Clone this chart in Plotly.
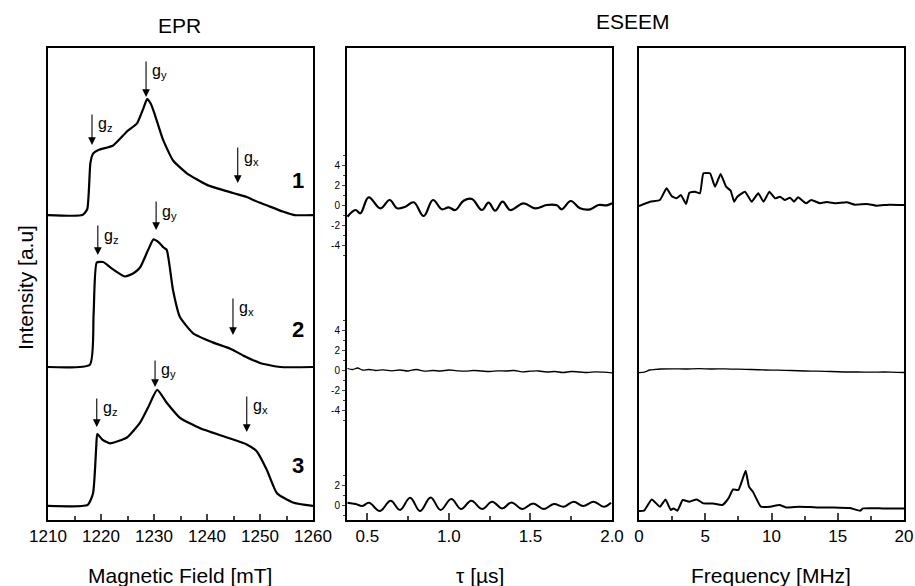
import plotly.graph_objects as go

# ---------------- DATA ----------------
# EPR spectra (field in mT, intensity normalised, relative to own baseline)
epr1_field = [1210, 1216.5, 1217.4, 1218.0, 1218.5, 1219.5, 1222.3, 1224.9, 1226.8, 1228.0, 1228.7, 1229.4, 1230.2, 1231.7,
              1233.6, 1236.2, 1240.0, 1244.9, 1247.5, 1248.7, 1251.5, 1254.3, 1256.5, 1260]
epr1_int = [0.0, 0.0, 0.05, 0.45, 0.53, 0.56, 0.60, 0.72, 0.79, 0.92, 1.0, 0.96, 0.86, 0.65,
            0.47, 0.36, 0.26, 0.19, 0.155, 0.13, 0.08, 0.03, 0.0, 0.0]

epr2_field = [1210, 1217.9, 1218.6, 1219.2, 1220.4, 1222.0, 1224.5, 1226.2, 1227.4, 1228.9, 1229.9, 1231.0,
              1231.8, 1232.4, 1233.6, 1234.9, 1237.4, 1241.2, 1244.3, 1246.8, 1250.0, 1253.8, 1260]
epr2_int = [0.0, 0.02, 0.45, 0.90, 0.905, 0.85, 0.78, 0.81, 0.86, 1.01, 1.10, 1.07,
            1.03, 1.01, 0.66, 0.43, 0.29, 0.21, 0.16, 0.10, 0.035, 0.0, 0.0]

epr3_field = [1210, 1217.5, 1218.5, 1219.1, 1219.3, 1220.3, 1221.7, 1224.9, 1227.4, 1228.9, 1230.6, 1232.4,
              1234.9, 1238.7, 1243.8, 1247.5, 1249.4, 1251.3, 1253.2, 1256.2, 1260]
epr3_int = [0.0, 0.01, 0.11, 0.51, 0.62, 0.57, 0.54, 0.59, 0.72, 0.85, 1.0, 0.89,
            0.76, 0.67, 0.59, 0.53, 0.47, 0.31, 0.11, 0.03, 0.0]

# ESEEM time traces (tau in microseconds)
t1 = [0.378, 0.427, 0.457, 0.508, 0.58, 0.637, 0.682, 0.733, 0.784, 0.845, 0.902, 0.957, 0.998, 1.039,
      1.09, 1.141, 1.202, 1.243, 1.284, 1.329, 1.376, 1.457, 1.529, 1.6, 1.662, 1.692, 1.747, 1.804,
      1.866, 1.917, 1.968, 2.0]
v1 = [-1.17, -0.5, -0.83, 0.77, -0.33, 0.5, -0.33, -0.17, 0.27, -1.1, 0.5, -0.43, -0.23, -0.5,
      0.43, 0.6, -0.5, 0.23, -0.57, 0.33, -0.5, 0.17, -0.33, 0.0, -0.03, -0.43, 0.4, -0.33,
      -0.43, 0.0, -0.03, 0.17]

t2 = [0.378, 0.41, 0.44, 0.47, 0.51, 0.55, 0.6, 0.65, 0.7, 0.75, 0.8, 0.85, 0.9, 0.95, 1.0, 1.05,
      1.1, 1.15, 1.2, 1.25, 1.3, 1.35, 1.4, 1.45, 1.5, 1.55, 1.6, 1.65, 1.7, 1.75, 1.8, 1.85, 1.9,
      1.95, 2.0]
v2 = [0.15, 0.05, 0.2, 0.0, 0.05, -0.05, 0.02, -0.08, 0.0, -0.1, 0.05, -0.12, -0.05, -0.1, 0.0,
      -0.08, -0.12, -0.05, -0.1, -0.15, -0.08, -0.1, -0.05, -0.18, -0.12, -0.1, -0.2, -0.15, -0.25,
      -0.15, -0.2, -0.25, -0.18, -0.22, -0.28]

t3 = [0.378, 0.428, 0.469, 0.51, 0.576, 0.643, 0.7, 0.762, 0.823, 0.888, 0.949, 1.014, 1.075, 1.137,
      1.204, 1.265, 1.326, 1.384, 1.449, 1.516, 1.582, 1.643, 1.704, 1.765, 1.823, 1.888, 1.949, 1.994]
v3 = [0.3, 0.17, -0.03, 0.3, -0.53, 0.5, -0.43, 0.8, -0.53, 0.83, -0.43, 0.67, -0.33, 0.5,
      -0.33, 0.4, -0.27, 0.33, -0.33, 0.23, -0.33, 0.17, -0.1, 0.4, -0.03, 0.4, -0.1, 0.3]

# ESEEM frequency spectra (MHz)
f1 = [0.0, 0.83, 1.58, 2.08, 2.46, 2.83, 3.16, 3.55, 3.8, 4.23, 4.6, 4.86, 5.36, 5.74, 6.16, 6.57,
      6.92, 7.18, 7.42, 8.0, 8.5, 9.0, 9.4, 9.84, 10.27, 10.64, 11.0, 11.4, 11.7, 12.0, 12.6, 13.0,
      13.66, 14.16, 14.9, 15.67, 16.3, 17.2, 17.9, 18.9, 20.0]
s1 = [-0.1, 0.33, 0.5, 1.67, 0.9, 0.67, 1.0, 0.1, 1.23, 1.33, 1.17, 3.17, 3.17, 1.83, 3.1, 1.83,
      1.43, 0.33, 0.83, 1.33, 0.33, 1.17, 0.33, 1.33, 0.67, 0.83, 0.5, 0.73, 0.33, 0.77, 0.17, 0.5,
      0.17, 0.3, 0.17, 0.27, 0.03, 0.1, -0.07, 0.03, 0.0]

f2 = [0.0, 0.4, 0.8, 1.2, 1.6, 2.5, 3.5, 4.5, 5.5, 6.5, 7.5, 8.5, 9.5, 10.5, 11.5, 12.5, 13.5,
      14.5, 15.5, 16.5, 17.5, 18.5, 19.5, 20.0]
s2 = [-0.27, -0.22, 0.0, 0.05, 0.1, 0.12, 0.1, 0.14, 0.1, 0.12, 0.08, 0.05, 0.0, -0.02, -0.05,
      -0.1, -0.12, -0.15, -0.2, -0.2, -0.22, -0.2, -0.23, -0.25]

f3 = [0.0, 0.38, 0.96, 1.58, 2.0, 2.4, 2.6, 2.9, 3.3, 3.8, 4.35, 4.86, 5.6, 6.3, 6.75, 7.1, 7.5,
      7.75, 8.05, 8.3, 8.6, 9.2, 9.9, 10.6, 11.1, 12.1, 13.4, 14.7, 15.9, 16.7, 16.9, 18.4, 20.0]
s3 = [-0.53, -0.5, 0.63, -0.1, 0.63, -0.43, -0.27, -0.5, 0.57, 0.4, 0.63, 0.23, 0.23, 0.07, 0.73,
      1.63, 1.57, 2.4, 3.5, 1.9, 1.4, -0.1, -0.1, 0.07, -0.17, -0.1, -0.17, -0.17, -0.23, -0.5,
      -0.27, -0.27, -0.27]

epr_labels = ["1", "2", "3"]
field_ticks = [1210, 1220, 1230, 1240, 1250, 1260]
tau_ticks = [0.5, 1.0, 1.5, 2.0]
freq_ticks = [0, 5, 10, 15, 20]
eseem_top_ticks = [4, 2, 0, -2, -4]
eseem_top_minor = [5, 3, 1, -1, -3, -5]
eseem_bot_ticks = [2, 0]
eseem_bot_minor = [3, 1, -1]

# ---------------- LAYOUT CONSTANTS ----------------
W, H = 915, 586
ML, MR, MT, MB = 48, 11, 48, 66
PW, PH = W - ML - MR, H - MT - MB

def px(xp):
    return (xp - ML) / PW

def py(yp):
    return (H - MB - yp) / PH

epr_offsets = [2.629, 1.319, 0.121]        # baseline of each EPR trace (left axis units)
eseem_offsets = [31.5, 15.0, 1.43]         # zero line of each ESEEM trace (middle/right axis units)
epr_range = [0, PH / 116.0]
eseem_range = [0, PH / 10.0]

FONT = "Liberation Sans, Arial, sans-serif"
fig = go.Figure()

for fx, fy, off in zip([epr1_field, epr2_field, epr3_field], [epr1_int, epr2_int, epr3_int], epr_offsets):
    fig.add_trace(go.Scatter(x=fx, y=[v + off for v in fy], mode="lines",
                             line=dict(color="black", width=2.2, shape="spline", smoothing=0.5),
                             xaxis="x", yaxis="y", showlegend=False, hoverinfo="skip"))

for tx, ty, off, w in zip([t1, t2, t3], [v1, v2, v3], eseem_offsets, [2.2, 1.3, 2.0]):
    fig.add_trace(go.Scatter(x=tx, y=[v + off for v in ty], mode="lines",
                             line=dict(color="black", width=w, shape="spline", smoothing=1.1),
                             xaxis="x2", yaxis="y2", showlegend=False, hoverinfo="skip"))

for fx, fy, off, w in zip([f1, f2, f3], [s1, s2, s3], eseem_offsets, [2.0, 1.3, 2.0]):
    fig.add_trace(go.Scatter(x=fx, y=[v + off for v in fy], mode="lines",
                             line=dict(color="black", width=w, shape="spline", smoothing=0.4),
                             xaxis="x3", yaxis="y3", showlegend=False, hoverinfo="skip"))

axis_common = dict(showline=True, mirror=True, linecolor="black", linewidth=2, showgrid=False,
                   zeroline=False, tickfont=dict(family=FONT, size=17, color="black"))

ytv, ytt, ymin = [], [], []
for off in eseem_offsets[:2]:
    for v in eseem_top_ticks:
        ytv.append(off + v)
        ytt.append(str(v))
    ymin += [off + v for v in eseem_top_minor]
for v in eseem_bot_ticks:
    ytv.append(eseem_offsets[2] + v)
    ytt.append(str(v))
ymin += [eseem_offsets[2] + v for v in eseem_bot_minor]

fig.update_layout(
    autosize=True,
    margin=dict(l=ML, r=MR, t=MT, b=MB, autoexpand=False),
    plot_bgcolor="white", paper_bgcolor="white",
    font=dict(family=FONT, color="black"),
    xaxis=dict(domain=[0, px(313)], range=[1210, 1260], tickvals=field_ticks, ticks="inside", ticklen=6, tickwidth=2,
               minor=dict(dtick=5, ticks="inside", ticklen=4, tickwidth=2), anchor="y", **axis_common),
    yaxis=dict(domain=[0, 1], range=epr_range, showticklabels=False, ticks="", anchor="x", **axis_common),
    xaxis2=dict(domain=[px(347), px(612)], range=[0.375, 2.0], tickvals=tau_ticks, ticktext=["0.5", "1.0", "1.5", "2.0"],
                ticks="inside", ticklen=7, tickwidth=2,
                minor=dict(tickvals=[0.75, 1.25, 1.75], ticks="inside", ticklen=4, tickwidth=2), anchor="y2", **axis_common),
    yaxis2=dict(domain=[0, 1], range=eseem_range, tickvals=ytv, ticktext=ytt, ticks="outside", ticklen=3, tickwidth=1,
                minor=dict(tickvals=ymin, ticks="outside", ticklen=2, tickwidth=1),
                anchor="x2", showline=True, mirror=True, linecolor="black", linewidth=2, showgrid=False, zeroline=False,
                tickfont=dict(family=FONT, size=10, color="black")),
    xaxis3=dict(domain=[px(639), 1], range=[0, 20], tickvals=freq_ticks, ticks="inside", ticklen=7, tickwidth=2,
                minor=dict(tickvals=[2.5, 7.5, 12.5, 17.5], ticks="inside", ticklen=4, tickwidth=2), anchor="y3", **axis_common),
    yaxis3=dict(domain=[0, 1], range=eseem_range, showticklabels=False, ticks="", anchor="x3", **axis_common),
)

ann = []
ann.append(dict(text="EPR", x=px(179), y=py(26), xref="paper", yref="paper", showarrow=False,
                font=dict(size=21, family=FONT), xanchor="center", yanchor="middle"))
ann.append(dict(text="ESEEM", x=px(633), y=py(22), xref="paper", yref="paper", showarrow=False,
                font=dict(size=21, family=FONT), xanchor="center", yanchor="middle"))
ann.append(dict(text="Intensity [a.u]", x=px(25), y=py(288), xref="paper", yref="paper", showarrow=False,
                textangle=-90, font=dict(size=21, family=FONT), xanchor="center", yanchor="middle"))
for txt, xc in [("Magnetic Field [mT]", 180), ("τ [µs]", 480), ("Frequency [MHz]", 771)]:
    ann.append(dict(text=txt, x=px(xc), y=py(575), xref="paper", yref="paper", showarrow=False,
                    font=dict(size=21, family=FONT), xanchor="center", yanchor="middle"))

for lab, yy in zip(epr_labels, [2.93, 1.638, 0.474]):
    ann.append(dict(text="<b>%s</b>" % lab, x=1257.2, y=yy, xref="x", yref="y", showarrow=False,
                    font=dict(size=22, family=FONT), xanchor="center", yanchor="middle"))

# g-tensor arrows: (field, y-head, length px, subscript)
g_arrows = [
    (1218.3, 3.233, 32, "z"), (1228.5, 3.647, 37, "y"), (1245.8, 2.905, 37, "x"),
    (1219.4, 2.284, 31, "z"), (1230.4, 2.50, 30, "y"), (1244.9, 1.595, 38, "x"),
    (1219.2, 0.802, 30, "z"), (1230.2, 1.147, 28, "y"), (1247.5, 0.759, 37, "x"),
]
for bx, by, ln, sub in g_arrows:
    ann.append(dict(text="", x=bx, y=by, xref="x", yref="y", ax=0, ay=-ln, showarrow=True,
                    arrowhead=2, arrowsize=1.4, arrowwidth=1.1, arrowcolor="black"))
    ann.append(dict(text="g<sub>%s</sub>" % sub, x=bx, y=by, xref="x", yref="y", showarrow=False,
                    xshift=4, yshift=ln - 12, xanchor="left", yanchor="middle",
                    font=dict(size=16, family=FONT)))

fig.update_layout(annotations=ann)
fig.write_html("out.html", config={"displayModeBar": False, "responsive": True},
               default_width="100vw", default_height="100vh")

# remove the default page margin so the figure fills the window exactly
with open("out.html", "r", encoding="utf-8") as fh:
    page = fh.read()
page = page.replace("<head>", "<head><style>html,body{margin:0;padding:0;overflow:hidden;}</style>", 1)
with open("out.html", "w", encoding="utf-8") as fh:
    fh.write(page)
